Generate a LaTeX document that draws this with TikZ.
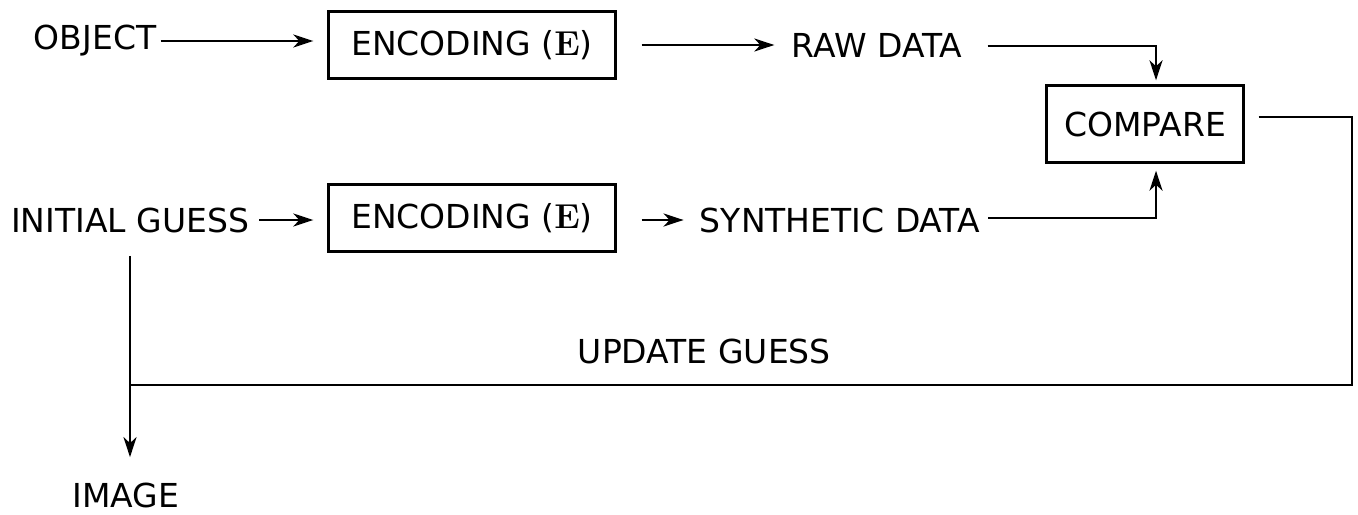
\documentclass[tikz,border=0pt]{standalone}
\usepackage[no-math]{fontspec}
\setmainfont{DejaVu Sans}
\usepackage{tikz}
\usetikzlibrary{arrows.meta,calc,positioning}
\tikzset{
  every node/.style={font=\fontsize{16.5}{19}\selectfont},
  word/.style={inner sep=2pt},
  stage/.style={draw, line width=1.2pt, inner sep=2pt, align=center},
  flow/.style={-{Stealth[length=10pt,width=6.5pt,inset=3pt]}, line width=1.2pt},
  wire/.style={line width=1.2pt}
}

\begin{document}
\begin{tikzpicture}[x=0.5pt,y=-0.5pt]
\useasboundingbox (0,0) rectangle (1358,514);

% Measured branch: the object is encoded into raw data.
\node[word] (object) at (95,41) {OBJECT};
\node[stage, minimum width=143.5pt, minimum height=33.5pt] (enc1) at (472,45)
  {ENCODING ($\mathbf{E}$)};
\node[word] (raw) at (877,45) {RAW DATA};

% Simulated branch: the current guess goes through the same encoding.
\node[word] (guess) at (130,220) {INITIAL GUESS};
\node[stage, minimum width=143.5pt, minimum height=33.5pt] (enc2) at (472,218)
  {ENCODING ($\mathbf{E}$)};
\node[word] (synth) at (840,220) {SYNTHETIC DATA};

\node[stage, minimum width=98.5pt, minimum height=38.5pt] (compare) at (1145,124)
  {COMPARE};

\node[word] (image) at (126,495) {IMAGE};

\draw[flow, shorten >=7pt] (object) -- (enc1.west |- object);
\draw[flow, shorten <=12.5pt, shorten >=6.5pt] (enc1.east |- raw) -- (raw);
\draw[flow, shorten <=3pt, shorten >=7pt] (guess) -- (enc2.west |- guess);
\draw[flow, shorten <=12.5pt, shorten >=6pt] (enc2.east |- synth) -- (synth);

% Both data sets meet in the comparison.
\draw[flow, shorten <=10.5pt, shorten >=2pt] ([yshift=-0.5pt]raw.east) -|
  ([xshift=5.5pt]compare.north);
\draw[flow, shorten <=2pt, shorten >=3.5pt] ([yshift=1pt]synth.east) -|
  ([xshift=5.5pt]compare.south);

% Feedback loop back to the guess.
\coordinate (loop) at (1352,385);
\draw[wire, shorten <=7pt] ([yshift=3.5pt]compare.east) -| (loop)
  -- node[word, above=8pt, pos=0.53] (update) {UPDATE GUESS} (loop -| guess.south);
\draw[flow, shorten <=9.5pt, shorten >=10.5pt] (guess.south) -- (guess.south |- image.north);

\end{tikzpicture}
\end{document}
